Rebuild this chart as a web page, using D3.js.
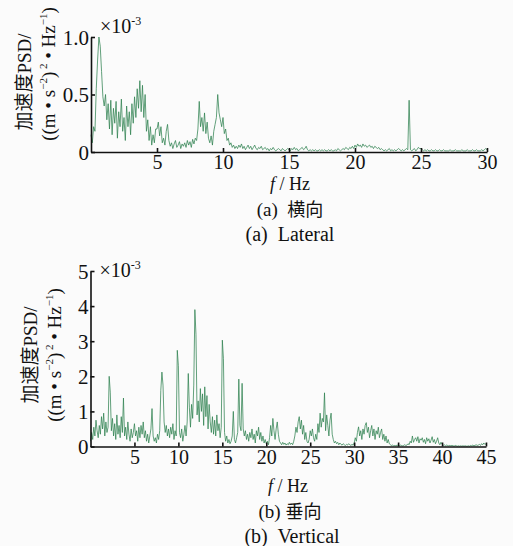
<!DOCTYPE html>
<html><head><meta charset="utf-8">
<script src="https://cdn.jsdelivr.net/npm/d3@7/dist/d3.min.js"></script>
<style>
html,body{margin:0;padding:0;background:#fbfbfb;}
svg{display:block;}
text{font-family:"Liberation Serif","Times New Roman",serif;fill:#111;white-space:pre;}
.cjk{font-family:"Noto Sans CJK SC","Liberation Serif",serif;}
</style></head>
<body>
<svg id="chart" width="513" height="546"></svg>
<script>
// ---- Data (PSD values, ×10^-3 (m·s^-2)^2·Hz^-1) ----
// Lateral: sampled every 0.1 Hz from 0 to 30 Hz
const lateralStepHz = 0.1;
const lateralPSD = [
  0.15,0.08,0.22,0.18,0.55,0.80,1.00,0.92,0.70,0.48,
  0.40,0.50,0.28,0.42,0.20,0.45,0.15,0.38,0.25,0.44,
  0.12,0.35,0.22,0.46,0.18,0.30,0.10,0.40,0.22,0.35,
  0.15,0.42,0.25,0.48,0.30,0.55,0.38,0.62,0.35,0.58,
  0.30,0.50,0.18,0.28,0.10,0.22,0.06,0.15,0.08,0.20,
  0.20,0.26,0.14,0.22,0.08,0.12,0.06,0.18,0.24,0.10,
  0.05,0.08,0.03,0.07,0.10,0.04,0.06,0.09,0.03,0.07,
  0.05,0.08,0.04,0.10,0.06,0.09,0.04,0.11,0.07,0.12,
  0.10,0.20,0.44,0.22,0.30,0.18,0.34,0.16,0.26,0.12,
  0.08,0.14,0.06,0.18,0.24,0.30,0.50,0.34,0.28,0.22,
  0.30,0.16,0.20,0.10,0.12,0.06,0.08,0.04,0.06,0.03,
  0.05,0.03,0.06,0.04,0.07,0.03,0.05,0.02,0.04,0.06,
  0.03,0.05,0.02,0.04,0.06,0.03,0.02,0.04,0.03,0.05,
  0.02,0.03,0.04,0.02,0.03,0.01,0.03,0.02,0.04,0.02,
  0.01,0.02,0.03,0.02,0.01,0.03,0.02,0.01,0.02,0.03,
  0.02,0.01,0.03,0.02,0.04,0.02,0.03,0.01,0.02,0.03,
  0.04,0.02,0.03,0.05,0.02,0.01,0.02,0.01,0.02,0.01,
  0.02,0.01,0.01,0.02,0.01,0.02,0.01,0.02,0.01,0.01,
  0.02,0.01,0.02,0.01,0.01,0.02,0.01,0.03,0.02,0.01,
  0.02,0.03,0.02,0.04,0.03,0.02,0.04,0.03,0.05,0.03,
  0.06,0.04,0.07,0.05,0.06,0.04,0.07,0.05,0.06,0.04,
  0.05,0.06,0.04,0.05,0.03,0.05,0.04,0.03,0.04,0.02,
  0.03,0.02,0.01,0.02,0.01,0.02,0.03,0.01,0.02,0.01,
  0.02,0.01,0.02,0.03,0.02,0.01,0.02,0.01,0.02,0.03,
  0.02,0.45,0.02,0.01,0.02,0.03,0.01,0.02,0.04,0.03,
  0.03,0.02,0.01,0.02,0.01,0.02,0.01,0.01,0.02,0.01,
  0.01,0.02,0.01,0.01,0.02,0.01,0.01,0.02,0.01,0.01,
  0.01,0.01,0.02,0.01,0.01,0.01,0.02,0.01,0.01,0.01,
  0.01,0.02,0.01,0.01,0.01,0.02,0.01,0.01,0.01,0.02,
  0.01,0.01,0.02,0.01,0.01,0.01,0.02,0.01,0.02,0.03,
  0.02
];
// Vertical: sampled every 0.125 Hz from 0 to 45 Hz
const verticalStepHz = 0.125;
const verticalPSD = [
  0.15,0.40,0.20,0.55,0.30,0.75,0.45,0.25,
  0.60,0.35,0.85,0.50,0.95,0.30,0.70,0.40,
  0.55,2.00,1.55,0.45,0.80,0.30,0.65,0.20,
  0.90,0.35,0.60,0.25,0.85,0.40,1.38,0.30,
  0.55,0.20,0.70,0.35,0.15,0.50,0.25,0.40,
  0.65,0.30,0.45,0.15,0.55,0.25,0.60,0.35,
  0.70,0.25,0.45,0.15,0.35,0.10,0.30,0.50,
  1.08,0.30,0.15,0.25,0.10,0.35,0.20,0.45,
  1.60,2.12,1.75,0.70,0.40,0.60,0.30,0.50,
  0.25,0.55,0.35,0.65,0.20,0.45,0.30,2.74,
  2.30,0.40,0.25,0.50,0.15,0.35,0.60,0.30,
  0.70,2.08,1.10,0.55,1.20,0.80,1.75,3.90,
  3.20,0.90,1.30,0.70,1.65,1.00,1.50,0.60,
  1.70,0.85,1.45,0.50,1.20,0.70,0.40,0.85,
  0.35,0.75,0.30,0.90,0.45,0.65,0.25,0.55,
  3.03,2.50,0.40,0.15,0.30,0.10,0.20,0.08,
  0.15,0.30,1.00,0.20,0.10,0.25,0.40,1.92,
  0.60,0.45,1.80,0.50,0.30,0.45,0.20,0.35,
  0.15,0.40,0.25,0.50,0.20,0.35,0.10,0.45,
  0.30,0.55,0.20,0.40,0.15,0.30,0.10,0.20,
  0.08,0.15,0.05,0.25,0.60,0.30,0.80,0.45,
  0.20,0.50,0.70,0.35,0.15,0.10,0.05,0.12,
  0.06,0.10,0.04,0.08,0.05,0.12,0.06,0.10,
  0.05,0.15,0.30,0.55,0.40,0.70,0.85,0.50,
  0.75,0.35,0.60,0.20,0.40,0.15,0.10,0.20,
  0.45,0.30,0.50,0.25,0.15,0.35,0.20,0.65,
  0.40,0.95,0.55,0.80,0.70,1.53,0.45,0.90,
  0.60,0.30,0.75,0.95,0.35,0.20,0.10,0.15,
  0.08,0.12,0.05,0.10,0.06,0.04,0.08,0.05,
  0.03,0.06,0.04,0.08,0.05,0.03,0.06,0.04,
  0.10,0.25,0.15,0.40,0.56,0.30,0.45,0.20,
  0.50,0.35,0.60,0.68,0.40,0.55,0.25,0.45,
  0.60,0.30,0.50,0.20,0.45,0.35,0.55,0.25,
  0.40,0.50,0.20,0.35,0.15,0.30,0.10,0.20,
  0.08,0.05,0.03,0.04,0.02,0.03,0.02,0.04,
  0.03,0.02,0.04,0.03,0.02,0.03,0.05,0.03,
  0.04,0.08,0.05,0.15,0.10,0.30,0.12,0.20,
  0.25,0.15,0.28,0.10,0.22,0.18,0.25,0.12,
  0.20,0.08,0.25,0.15,0.22,0.10,0.18,0.28,
  0.12,0.20,0.08,0.15,0.25,0.10,0.05,0.12,
  0.06,0.03,0.05,0.02,0.04,0.03,0.02,0.03,
  0.02,0.03,0.02,0.01,0.03,0.02,0.01,0.02,
  0.01,0.02,0.01,0.02,0.01,0.02,0.01,0.01,
  0.02,0.01,0.03,0.02,0.04,0.02,0.03,0.05,
  0.03,0.04,0.06,0.03,0.08,0.05,0.10,0.06,
  0.08
];
const lateralXTicks = [5,10,15,20,25,30];
const lateralYTicks = [0,0.5,1.0];
const lateralYTickLabels = ["0","0.5","1.0"];
const verticalXTicks = [5,10,15,20,25,30,35,40,45];
const verticalYTicks = [0,1,2,3,4,5];
const verticalYTickLabels = ["0","1","2","3","4","5"];
const xAxisTitle = ["f", " / Hz"];
const lateralCaptions = [["(a)  ", "横向"], "(a)  Lateral"];
const verticalCaptions = [["(b) ", "垂向"], "(b)  Vertical"];

const svg = d3.select("#chart");
const lineColor = "#2f8250";

function panel(cfg){
  const g = svg.append("g");
  const x = d3.scaleLinear().domain(cfg.xDomain).range(cfg.xRange);
  const y = d3.scaleLinear().domain(cfg.yDomain).range(cfg.yRange);
  const line = d3.line().x((d,i)=>x(i*cfg.step)).y(d=>y(d));
  g.append("path").datum(cfg.data).attr("d", line)
    .attr("fill","none").attr("stroke", lineColor).attr("stroke-width",0.75)
    .attr("stroke-linejoin","round");

  const xa = g.append("g").attr("transform",`translate(0,${cfg.yRange[0]})`)
    .call(d3.axisBottom(x).tickValues(cfg.xTicks).tickSizeInner(-4).tickSizeOuter(0).tickPadding(3).tickFormat(d3.format("d")));
  const ya = g.append("g").attr("transform",`translate(${cfg.xRange[0]},0)`)
    .call(d3.axisLeft(y).tickValues(cfg.yTicks).tickSizeInner(-4).tickSizeOuter(0).tickPadding(2)
      .tickFormat((d,i)=>cfg.yTickLabels[i]));
  [xa,ya].forEach(a=>{
    a.selectAll("path.domain").attr("stroke","#111").attr("stroke-width",1.6);
    a.selectAll(".tick line").attr("stroke","#111").attr("stroke-width",1.6);
    a.selectAll(".tick text").attr("font-family","Liberation Serif, serif").attr("fill","#111");
  });
  xa.selectAll(".tick text").attr("font-size",20);
  ya.selectAll(".tick text").attr("font-size",21).attr("dy","0.34em");

  // ×10^-3
  const m = g.append("text").attr("x", cfg.xRange[0]+9).attr("y", cfg.multY).attr("font-size",20);
  m.append("tspan").text("×10");
  m.append("tspan").attr("font-size",12).attr("dy",-8).text("-3");

  // x-axis title
  const xt = g.append("text").attr("x", cfg.xTitle[0]).attr("y", cfg.xTitle[1]).attr("text-anchor","middle").attr("font-size",18);
  xt.append("tspan").attr("font-style","italic").text(xAxisTitle[0]);
  xt.append("tspan").text(xAxisTitle[1]);

  // captions
  const c1 = g.append("text").attr("x",cfg.cap1[0]).attr("y",cfg.cap1[1]).attr("text-anchor","middle").attr("font-size",19);
  c1.append("tspan").text(cfg.captions[0][0]);
  c1.append("tspan").attr("class","cjk").attr("font-size",18).text(cfg.captions[0][1]);
  g.append("text").attr("x",cfg.cap2[0]).attr("y",cfg.cap2[1]).attr("text-anchor","middle").attr("font-size",20)
    .text(cfg.captions[1]);

  // y-axis title (two rotated lines)
  const t1 = g.append("text").attr("transform",`translate(${cfg.yT1[0]},${cfg.yT1[1]}) rotate(-90)`)
    .attr("text-anchor","middle").attr("font-size",19);
  t1.append("tspan").attr("class","cjk").text("加速度");
  t1.append("tspan").text("PSD/");
  const t2 = g.append("text").attr("transform",`translate(${cfg.yT2[0]},${cfg.yT2[1]}) rotate(-90)`)
    .attr("text-anchor","middle").attr("font-size",19);
  t2.append("tspan").text("((m • s");
  t2.append("tspan").attr("font-size",11).attr("dy",-8).text("−2");
  t2.append("tspan").attr("dy",8).text(")");
  t2.append("tspan").attr("font-size",11).attr("dy",-8).text(" 2");
  t2.append("tspan").attr("dy",8).text(" • Hz");
  t2.append("tspan").attr("font-size",11).attr("dy",-8).text("−1");
  t2.append("tspan").attr("dy",8).text(")");
}

panel({
  data: lateralPSD, step: lateralStepHz,
  xDomain:[0,30], xRange:[91,487], yDomain:[0,1], yRange:[152,37],
  xTicks: lateralXTicks, yTicks: lateralYTicks, yTickLabels: lateralYTickLabels,
  multY: 33, xTitle:[290,190], cap1:[290,216], cap2:[290,241], captions: lateralCaptions,
  yT1:[31,82], yT2:[55,74]
});
panel({
  data: verticalPSD, step: verticalStepHz,
  xDomain:[0,45], xRange:[90.5,486], yDomain:[0,5], yRange:[446.5,271],
  xTicks: verticalXTicks, yTicks: verticalYTicks, yTickLabels: verticalYTickLabels,
  multY: 277, xTitle:[288,492], cap1:[290,518], cap2:[292,543], captions: verticalCaptions,
  yT1:[37,355], yT2:[61,355]
});
</script>
</body></html>
